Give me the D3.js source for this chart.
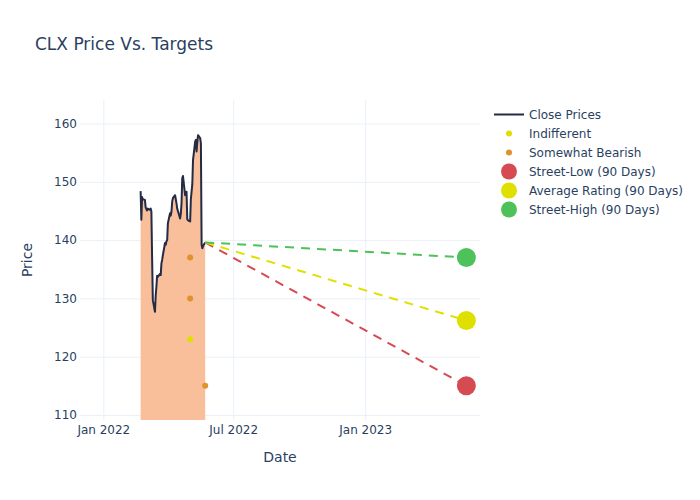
<!DOCTYPE html>
<html>
<head>
<meta charset="utf-8">
<script src="https://cdn.jsdelivr.net/npm/d3@7"></script>
<style>
  html, body { margin: 0; padding: 0; background: #fff; }
  svg { display: block; font-family: "DejaVu Sans", verdana, arial, sans-serif; }
</style>
</head>
<body>
<svg id="chart" width="700" height="500"></svg>
<script>
// ---- data ----
const closeDates = [
  "2022-02-22","2022-02-23","2022-02-24","2022-02-25","2022-02-28",
  "2022-03-01","2022-03-02","2022-03-03","2022-03-04","2022-03-07",
  "2022-03-08","2022-03-09","2022-03-10","2022-03-11","2022-03-14",
  "2022-03-15","2022-03-16","2022-03-17","2022-03-18","2022-03-21",
  "2022-03-22","2022-03-23","2022-03-24","2022-03-25","2022-03-28",
  "2022-03-29","2022-03-30","2022-03-31","2022-04-01","2022-04-04",
  "2022-04-05","2022-04-06","2022-04-07","2022-04-08","2022-04-11",
  "2022-04-12","2022-04-13","2022-04-14","2022-04-18","2022-04-19",
  "2022-04-20","2022-04-21","2022-04-22","2022-04-25","2022-04-26",
  "2022-04-27","2022-04-28","2022-04-29","2022-05-02","2022-05-03",
  "2022-05-04","2022-05-05","2022-05-06","2022-05-09","2022-05-10",
  "2022-05-11","2022-05-12","2022-05-13","2022-05-16","2022-05-17",
  "2022-05-18","2022-05-19","2022-05-20","2022-05-23"
];
const closePrices = [
  148.4, 143.5, 147.4, 147.0, 146.9,
  145.6, 145.3, 145.1, 145.4, 145.2,
  145.4, 144.9, 137.0, 129.7, 127.7,
  130.5, 132.0, 133.9, 133.7, 134.2,
  134.0, 136.0, 136.6, 137.4, 139.5,
  139.2, 139.8, 140.0, 142.9, 144.6,
  144.2, 144.9, 146.6, 147.2, 147.7,
  147.0, 146.3, 145.4, 143.7, 144.5,
  146.3, 150.6, 151.0, 147.7, 147.9,
  148.3, 143.6, 143.4, 143.2, 147.0,
  148.3, 149.5, 153.7, 156.9, 157.2,
  155.2, 156.8, 158.0, 157.5, 156.6,
  139.2, 138.6, 139.0, 139.6
];

const indifferentDates = ["2022-05-02"];
const indifferentValues = [123];
const bearishDates = ["2022-05-02", "2022-05-02", "2022-05-23"];
const bearishValues = [137, 130, 115];

const targetStartDate = "2022-05-23";
const targetStartValue = 139.6;
const targetDate = "2023-05-22";
const targetNames = ["Street-Low (90 Days)", "Average Rating (90 Days)", "Street-High (90 Days)"];
const targetValues = [115, 126.2, 137];
const targetColors = ["#d64a52", "#e0e000", "#4dc25a"];

const yTicks = [110, 120, 130, 140, 150, 160];
const xTickDates = ["2022-01-01", "2022-07-01", "2023-01-01"];
const xTickLabels = ["Jan 2022", "Jul 2022", "Jan 2023"];

// ---- layout ----
const W = 700, H = 500;
const M = { l: 80, t: 100, r: 220, b: 80 };
const pw = W - M.l - M.r, ph = H - M.t - M.b;
const parse = d3.utcParse("%Y-%m-%d");
const textColor = "#2a3f5f";
const gridColor = "#ebf0f8";
const FONT = '"DejaVu Sans", verdana, arial, sans-serif';

const svg = d3.select("#chart");

const x = d3.scaleUtc()
  .domain([new Date(Date.UTC(2021, 10, 29, 12)), new Date(Date.UTC(2023, 5, 10))])
  .range([M.l, M.l + pw]);
const y = d3.scaleLinear().domain([109.14, 164.03]).range([M.t + ph, M.t]);

// clip
svg.append("defs").append("clipPath").attr("id", "plotclip")
  .append("rect").attr("x", M.l).attr("y", M.t).attr("width", pw).attr("height", ph);

// grid
const xAxis = d3.axisBottom(x)
  .tickValues(xTickDates.map(parse))
  .tickFormat((d, i) => xTickLabels[i])
  .tickSize(-ph).tickPadding(6);
const gx = svg.append("g").attr("transform", `translate(0,${M.t + ph})`).call(xAxis);
gx.select(".domain").remove();
gx.selectAll(".tick line").attr("stroke", gridColor).attr("stroke-width", 1);
gx.selectAll(".tick text").attr("fill", textColor).attr("font-size", 12)
  .attr("font-family", FONT).attr("dy", "0.95em").attr("y", 3);

const yAxis = d3.axisLeft(y).tickValues(yTicks).tickSize(-pw).tickPadding(3);
const gy = svg.append("g").attr("transform", `translate(${M.l},0)`).call(yAxis);
gy.select(".domain").remove();
gy.selectAll(".tick line").attr("stroke", gridColor).attr("stroke-width", 1);
gy.selectAll(".tick text").attr("fill", textColor).attr("font-size", 12)
  .attr("font-family", FONT);

const plot = svg.append("g").attr("clip-path", "url(#plotclip)");

const closeData = closeDates.map((d, i) => ({ date: parse(d), v: closePrices[i] }));

// area fill to zero
plot.append("path")
  .datum(closeData)
  .attr("fill", "#f9bf9b")
  .attr("d", d3.area().x(d => x(d.date)).y0(y(0)).y1(d => y(d.v)));

// close line
plot.append("path")
  .datum(closeData)
  .attr("fill", "none")
  .attr("stroke", "#232b45")
  .attr("stroke-width", 2)
  .attr("stroke-linejoin", "round")
  .attr("d", d3.line().x(d => x(d.date)).y(d => y(d.v)));

// dashed target lines
targetValues.forEach((v, i) => {
  plot.append("line")
    .attr("x1", x(parse(targetStartDate))).attr("y1", y(targetStartValue))
    .attr("x2", x(parse(targetDate))).attr("y2", y(v))
    .attr("stroke", targetColors[i]).attr("stroke-width", 2)
    .attr("stroke-dasharray", "9,7");
});

// analyst points
plot.selectAll(".ind").data(indifferentDates).enter().append("circle")
  .attr("cx", d => x(parse(d))).attr("cy", (d, i) => y(indifferentValues[i]))
  .attr("r", 3).attr("fill", "#dede00");
plot.selectAll(".bear").data(bearishDates).enter().append("circle")
  .attr("cx", d => x(parse(d))).attr("cy", (d, i) => y(bearishValues[i]))
  .attr("r", 3).attr("fill", "#e0922b");

// target markers
targetValues.forEach((v, i) => {
  svg.append("circle")
    .attr("cx", x(parse(targetDate))).attr("cy", y(v))
    .attr("r", 9.5).attr("fill", targetColors[i]);
});

// title
svg.append("text").attr("x", 35).attr("y", 50)
  .attr("fill", textColor).attr("font-size", 17).text("CLX Price Vs. Targets");

// axis titles
svg.append("text").attr("x", M.l + pw / 2).attr("y", 462)
  .attr("text-anchor", "middle").attr("fill", textColor).attr("font-size", 14).text("Date");
svg.append("text").attr("transform", `translate(32,${M.t + ph / 2}) rotate(-90)`)
  .attr("text-anchor", "middle").attr("fill", textColor).attr("font-size", 14).text("Price");

// legend
const legendItems = [
  { name: "Close Prices", type: "line", color: "#232b45" },
  { name: "Indifferent", type: "dot", color: "#dede00", r: 3 },
  { name: "Somewhat Bearish", type: "dot", color: "#e0922b", r: 3 },
  { name: targetNames[0], type: "dot", color: targetColors[0], r: 8 },
  { name: targetNames[1], type: "dot", color: targetColors[1], r: 8 },
  { name: targetNames[2], type: "dot", color: targetColors[2], r: 8 }
];
const lg = svg.append("g");
legendItems.forEach((it, i) => {
  const cy = 114.5 + i * 19;
  if (it.type === "line") {
    lg.append("line").attr("x1", 494).attr("x2", 524).attr("y1", cy).attr("y2", cy)
      .attr("stroke", it.color).attr("stroke-width", 2);
  } else {
    lg.append("circle").attr("cx", 509).attr("cy", cy).attr("r", it.r).attr("fill", it.color);
  }
  lg.append("text").attr("x", 529).attr("y", cy + 4.5)
    .attr("fill", textColor).attr("font-size", 12).text(it.name);
});
</script>
</body>
</html>
